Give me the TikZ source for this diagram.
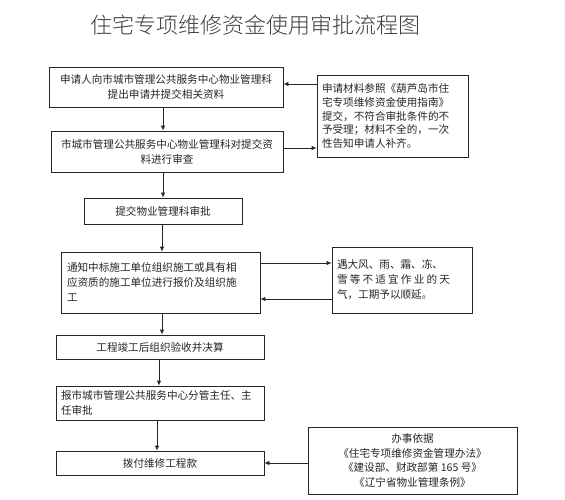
\documentclass[tikz,border=0pt]{standalone}
\usepackage{fontspec}
\setmainfont{Noto Sans CJK SC}
\newfontfamily\cjktitle{Noto Sans CJK SC Light}
\usetikzlibrary{arrows.meta}
\begin{document}
\begin{tikzpicture}[x=1pt,y=-1pt,
  box/.style={draw=black!85,line width=0.8pt,inner sep=0pt,font=\fontsize{10.6}{15}\selectfont,text=black!85},
  arr/.style={draw=black!85,line width=0.8pt,-{Latex[length=5pt,width=4.5pt]}}]
\useasboundingbox[fill=white] (0,0) rectangle (565,500);
\node[font=\cjktitle\fontsize{22}{24}\selectfont,text=black!75] (title) at (255,25) {住宅专项维修资金使用审批流程图};
% main column
\node[box,minimum width=234pt,minimum height=40pt,align=center] (b1) at (166,87) {申请人向市城市管理公共服务中心物业管理科\\提出申请并提交相关资料};
\node[box,minimum width=232pt,minimum height=41pt,align=center] (b2) at (167,151.5) {市城市管理公共服务中心物业管理科对提交资\\料进行审查};
\node[box,minimum width=158pt,minimum height=26pt,align=center] (b3) at (163,211) {提交物业管理科审批};
\node[box,minimum width=199pt,minimum height=61pt,align=left,text width=187pt,inner xsep=6pt] (b4) at (160.5,282.5) {通知中标施工单位组织施工或具有相\\应资质的施工单位进行报价及组织施\\工};
\node[box,minimum width=208pt,minimum height=24pt,align=center] (b5) at (160,347) {工程竣工后组织验收并决算};
\node[box,minimum width=208pt,minimum height=34pt,align=left,text width=198pt,inner xsep=5pt] (b6) at (160,403) {报市城市管理公共服务中心分管主任、主\\任审批};
\node[box,minimum width=208pt,minimum height=24pt,align=center] (b7) at (160,463) {拨付维修工程款};
% side boxes
\node[box,minimum width=151pt,minimum height=82pt,align=left,text width=141pt,inner xsep=5pt,font=\fontsize{10.6}{13.8}\selectfont] (r1) at (392.5,116) {申请材料参照《葫芦岛市住\\宅专项维修资金使用指南》\\提交，不符合审批条件的不\\予受理；材料不全的，一次\\性告知申请人补齐。};
\node[box,minimum width=140pt,minimum height=66pt,align=left,text width=130pt,inner xsep=5pt] (r2) at (402,280) {遇大风、雨、霜、冻、\\雪\hspace{2.2pt}等\hspace{2.2pt}不\hspace{2.2pt}适\hspace{2.2pt}宜\hspace{2.2pt}作\hspace{2.2pt}业\hspace{2.2pt}的\hspace{2.2pt}天\\气，工期予以顺延。};
\node[box,minimum width=209pt,minimum height=67pt,align=center,font=\fontsize{10.6}{14.5}\selectfont] (r3) at (412.5,460.5) {办事依据\\《住宅专项维修资金管理办法》\\《建设部、财政部第 165 号》\\《辽宁省物业管理条例》};
% helper coordinates
\coordinate (xa) at (163,0);
\coordinate (xb) at (162,0);
\coordinate (xc) at (159,0);
\coordinate (xd) at (157,0);
\coordinate (y1) at (0,84);
\coordinate (y2) at (0,148);
\coordinate (y3) at (0,263);
\coordinate (y4) at (0,299);
\coordinate (y5) at (0,463);
% vertical arrows
\draw[arr] (b1.south -| xa) -- (b2.north -| xa);
\draw[arr] (b2.south -| xa) -- (b3.north -| xa);
\draw[arr] (b3.south -| xb) -- (b4.north -| xb);
\draw[arr] (b4.south -| xb) -- (b5.north -| xb);
\draw[arr] (b5.south -| xc) -- (b6.north -| xc);
\draw[arr] (b6.south -| xd) -- (b7.north -| xd);
% horizontal arrows
\draw[arr] (r1.west |- y1) -- (b1.east |- y1);
\draw[arr] (b2.east |- y2) -- (r1.west |- y2);
\draw[arr] (b4.east |- y3) -- (r2.west |- y3);
\draw[arr] (r2.west |- y4) -- (b4.east |- y4);
\draw[arr] (r3.west |- y5) -- (b7.east |- y5);
\end{tikzpicture}
\end{document}
